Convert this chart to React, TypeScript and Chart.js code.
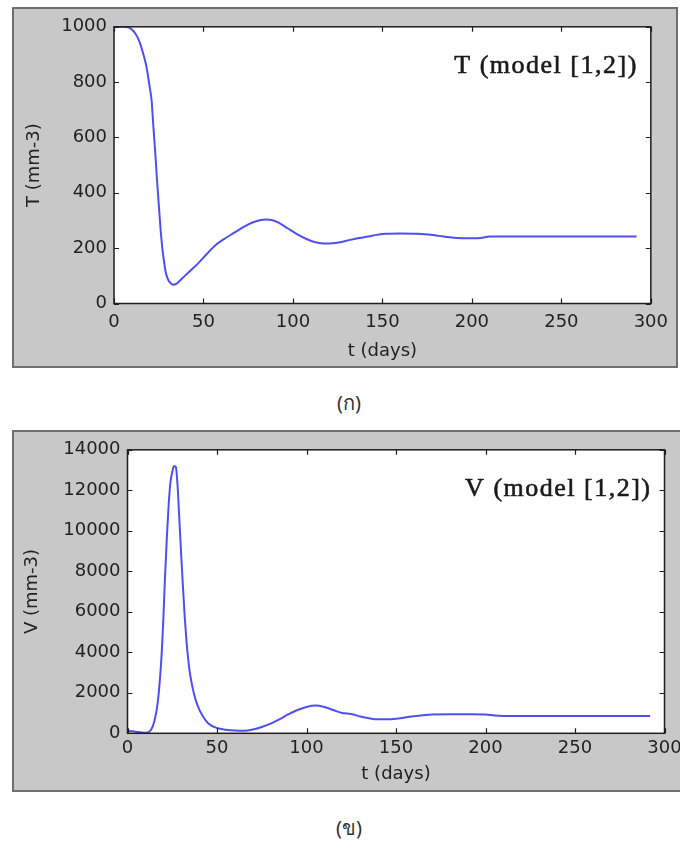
import React, { useEffect, useRef } from "react";
import { Chart, registerables } from "chart.js";

Chart.register(...registerables);

// ---- data ----
const tDays = [0, 5, 8, 10, 12, 14, 16, 18, 20, 21, 22, 23, 24, 25, 26, 27, 28, 29, 30, 31, 33, 35, 38, 42, 47, 52, 57, 62, 67, 72, 77, 82, 85, 88, 92, 97, 102, 107, 112, 117, 122, 127, 132, 137, 142, 147, 152, 160, 170, 180, 190, 200, 205, 210, 220, 240, 260, 280, 292];
const tCells = [1000, 1000, 998, 990, 975, 950, 910, 860, 780, 735, 640, 550, 450, 360, 270, 200, 150, 110, 90, 78, 68, 72, 90, 115, 145, 180, 212, 235, 255, 275, 292, 302, 304, 302, 292, 272, 252, 235, 222, 217, 218, 222, 230, 237, 242, 248, 252, 253, 252, 246, 238, 236, 237, 242, 242, 242, 242, 242, 242];

const vDays = [0, 3, 6, 9, 11, 13, 15, 17, 19, 20, 21, 22, 23, 24, 25, 26, 27, 28, 29, 30, 31, 32, 33, 34, 35, 37, 39, 42, 45, 50, 55, 60, 65, 70, 75, 80, 85, 90, 95, 100, 105, 110, 115, 120, 125, 130, 135, 140, 145, 150, 155, 160, 165, 170, 180, 190, 200, 205, 210, 230, 250, 270, 292];
const vLoad = [120, 100, 60, 30, 40, 150, 600, 1600, 3800, 5600, 7800, 9700, 11300, 12400, 12900, 13200, 13150, 12200, 10500, 8800, 7200, 5700, 4500, 3600, 2900, 2000, 1400, 850, 500, 260, 180, 140, 130, 190, 310, 480, 700, 950, 1150, 1300, 1370, 1300, 1150, 1000, 950, 830, 740, 690, 690, 720, 780, 840, 890, 930, 940, 935, 930, 880, 860, 860, 860, 860, 860];

const xTicks = [0, 50, 100, 150, 200, 250, 300];
const tYTicks = [0, 200, 400, 600, 800, 1000];
const vYTicks = [0, 2000, 4000, 6000, 8000, 10000, 12000, 14000];

const xTitle = "t (days)";
const tYTitle = "T (mm-3)";
const vYTitle = "V (mm-3)";
const tLabel = "T (model [1,2])";
const vLabel = "V (model [1,2])";
const captionA = "(ก)";
const captionB = "(ข)";

const LINE = "#4f4ff0";
const TICK_FONT = { family: "DejaVu Sans", size: 18 };
const TEXT_COLOR = "#222222";

const frameTicks = {
  id: "frameTicks",
  beforeDraw(chart: any) {
    const { ctx, chartArea: a } = chart;
    ctx.save();
    ctx.fillStyle = "#ffffff";
    ctx.fillRect(a.left, a.top, a.right - a.left, a.bottom - a.top);
    ctx.restore();
  },
  afterDatasetsDraw(chart: any, _args: any, opts: any) {
    const { ctx, chartArea: a, scales } = chart;
    ctx.save();
    ctx.strokeStyle = "#1e1e1e";
    ctx.lineWidth = 1.5;
    ctx.strokeRect(a.left, a.top, a.right - a.left, a.bottom - a.top);
    const L = 5;
    ctx.beginPath();
    scales.x.ticks.forEach((t: any) => {
      const px = Math.round(scales.x.getPixelForValue(t.value)) + 0.5;
      ctx.moveTo(px, a.bottom);
      ctx.lineTo(px, a.bottom - L);
      ctx.moveTo(px, a.top);
      ctx.lineTo(px, a.top + L);
    });
    scales.y.ticks.forEach((t: any) => {
      const py = Math.round(scales.y.getPixelForValue(t.value)) + 0.5;
      ctx.moveTo(a.left, py);
      ctx.lineTo(a.left + L, py);
      ctx.moveTo(a.right, py);
      ctx.lineTo(a.right - L, py);
    });
    ctx.lineWidth = 1.2;
    ctx.stroke();
    if (opts && opts.text) {
      ctx.font = '26px "Liberation Serif"';
      (ctx as any).letterSpacing = "1.5px";
      ctx.textAlign = "right";
      ctx.textBaseline = "alphabetic";
      ctx.fillStyle = "#1a1a1a";
      ctx.strokeStyle = "#1a1a1a";
      ctx.lineWidth = 0.6;
      const x = a.right - 13;
      const y = a.top + 46;
      ctx.fillText(opts.text, x, y);
      ctx.strokeText(opts.text, x, y);
    }
    ctx.restore();
  },
};

type PanelProps = {
  xs: number[];
  ys: number[];
  yTicks: number[];
  yTitle: string;
  label: string;
  width: number;
  height: number;
  yAxisW: number;
  xAxisH: number;
  padTop: number;
  padRight: number;
  xTickPad: number;
  xTitlePad: number;
  yTitlePad: number;
};

function Panel(p: PanelProps) {
  const ref = useRef<HTMLCanvasElement | null>(null);
  useEffect(() => {
    if (!ref.current) return;
    const chart = new Chart(ref.current, {
      type: "line",
      data: {
        datasets: [
          {
            data: p.xs.map((x, i) => ({ x, y: p.ys[i] })),
            borderColor: LINE,
            borderWidth: 2,
            pointRadius: 0,
            fill: false,
            cubicInterpolationMode: "monotone",
          },
        ],
      },
      options: {
        responsive: false,
        animation: false,
        events: [],
        layout: { padding: { top: p.padTop, right: p.padRight, left: 0, bottom: 0 } },
        plugins: {
          legend: { display: false },
          tooltip: { enabled: false },
          frameTicks: { text: p.label },
        } as any,
        scales: {
          x: {
            type: "linear",
            min: xTicks[0],
            max: xTicks[xTicks.length - 1],
            afterBuildTicks: (s: any) => {
              s.ticks = xTicks.map((v) => ({ value: v }));
            },
            afterFit: (s: any) => {
              s.height = p.xAxisH;
            },
            grid: { display: false, drawTicks: false },
            border: { display: false },
            ticks: {
              font: TICK_FONT,
              color: TEXT_COLOR,
              padding: p.xTickPad,
              maxRotation: 0,
              autoSkip: false,
              callback: (v: any) => String(v),
            },
            title: {
              display: true,
              text: xTitle,
              font: TICK_FONT,
              color: TEXT_COLOR,
              padding: { top: 0, bottom: p.xTitlePad },
            },
          },
          y: {
            type: "linear",
            min: p.yTicks[0],
            max: p.yTicks[p.yTicks.length - 1],
            afterBuildTicks: (s: any) => {
              s.ticks = p.yTicks.map((v) => ({ value: v }));
            },
            afterFit: (s: any) => {
              s.width = p.yAxisW;
            },
            grid: { display: false, drawTicks: false },
            border: { display: false },
            ticks: {
              font: TICK_FONT,
              color: TEXT_COLOR,
              padding: 7,
              autoSkip: false,
              callback: (v: any) => String(v),
            },
            title: {
              display: true,
              text: p.yTitle,
              font: TICK_FONT,
              color: TEXT_COLOR,
              padding: { top: p.yTitlePad, bottom: 0 },
            },
          },
        },
      } as any,
      plugins: [frameTicks as any],
    });
    return () => chart.destroy();
  }, []);
  return <canvas ref={ref} width={p.width} height={p.height} style={{ display: "block", width: p.width, height: p.height }} />;
}

const panelStyle = (left: number, top: number, w: number, h: number): React.CSSProperties => ({
  position: "absolute",
  left,
  top,
  width: w,
  height: h,
  border: "2px solid #6f6f6f",
  background: "#c8c8c8",
});

const captionStyle = (top: number): React.CSSProperties => ({
  position: "absolute",
  left: 299,
  width: 100,
  top,
  textAlign: "center",
  fontFamily: '"Noto Sans", "DejaVu Sans", sans-serif',
  fontSize: 20,
  lineHeight: "24px",
  color: "#333",
});

export default function App() {
  return (
    <div style={{ position: "absolute", left: 0, top: 0, width: 680, height: 843, overflow: "hidden", background: "#fff" }}>
      <div style={panelStyle(12, 7, 662, 357)}>
        <Panel
          xs={tDays}
          ys={tCells}
          yTicks={tYTicks}
          yTitle={tYTitle}
          label={tLabel}
          width={662}
          height={357}
          yAxisW={100}
          xAxisH={62.5}
          padTop={17}
          padRight={20}
          xTickPad={8}
          xTitlePad={4}
          yTitlePad={10}
        />
      </div>
      <div style={captionStyle(391)}>{captionA}</div>
      <div style={panelStyle(12, 430, 676, 358)}>
        <Panel
          xs={vDays}
          ys={vLoad}
          yTicks={vYTicks}
          yTitle={vYTitle}
          label={vLabel}
          width={676}
          height={358}
          yAxisW={113.5}
          xAxisH={56.7}
          padTop={12}
          padRight={25.5}
          xTickPad={4}
          xTitlePad={5}
          yTitlePad={8}
        />
      </div>
      <div style={captionStyle(816)}>{captionB}</div>
    </div>
  );
}
